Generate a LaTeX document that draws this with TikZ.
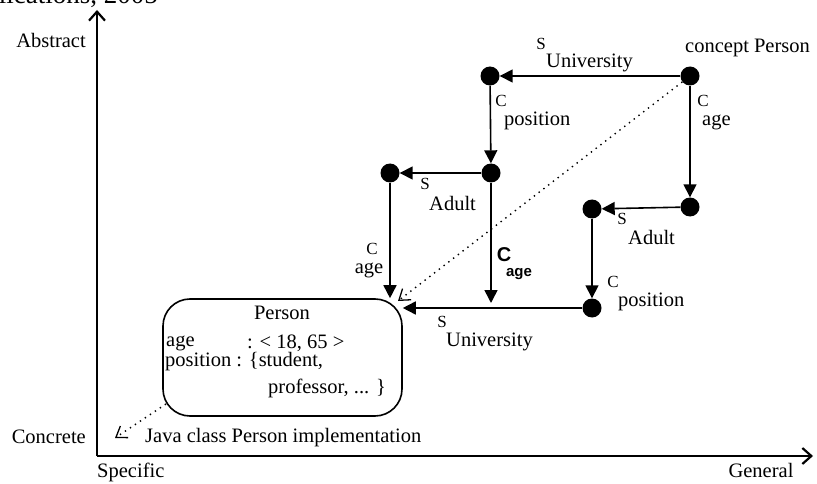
\documentclass[tikz,border=0pt]{standalone}
\usepackage{fontspec}
\setmainfont{Liberation Serif}
\newfontfamily\labelsans{Liberation Sans}
\usetikzlibrary{positioning}
\usetikzlibrary{arrows.meta}

\tikzset{
	dot/.style={circle, fill=black, inner sep=0pt, minimum size=19pt},
	link/.style={line width=1.6pt, -{Triangle[length=13pt,width=13pt]}},
	axis/.style={line width=2.2pt, -{Straight Barb[length=9pt,width=16pt]}},
	impl/.style={line width=1.4pt, dash pattern=on 1.4pt off 4.6pt, -{Straight Barb[length=10pt,width=14pt,line width=1.3pt]}},
	sym/.style={font=\fontsize{17}{17}\selectfont, inner sep=0pt},
	sub/.style={font=\fontsize{20.5}{22}\selectfont, inner sep=0pt, anchor=west},
	txt/.style={font=\fontsize{20.5}{22}\selectfont, inner sep=0pt},
	boldsym/.style={font=\labelsans\bfseries\fontsize{20}{20}\selectfont, inner sep=0pt},
	boldsub/.style={font=\labelsans\bfseries\fontsize{15}{15}\selectfont, inner sep=0pt},
}

\begin{document}
\begin{tikzpicture}[x=1pt, y=-1pt]

	\useasboundingbox (0,0) rectangle (817,484);

	% caption remainder at the top
	\node[txt, font=\fontsize{27}{28}\selectfont, anchor=base east] (caption) at (158,4) {Applications, 2005};

	% axes
	\coordinate (origin) at (97,456);
	\coordinate (ytip) at (97,10);
	\coordinate (xtip) at (813,456);
	\draw[axis] (origin) -- (ytip);
	\draw[axis] (origin) -- (xtip);

	\node[txt] (abstract) at (51,40) {Abstract};
	\node[txt, anchor=east] (concrete) at (86,437) {Concrete};
	\node[txt, anchor=west] (specific) at (97,472) {Specific};
	\node[txt] (general) at (761,470) {General};

	% concepts
	\node[dot] (P0) at (690,76) {};
	\node[dot] (A) at (490,76) {};
	\node[dot] (B) at (491,173) {};
	\node[dot] (Cn) at (390,173) {};
	\node[dot] (D) at (690,207) {};
	\node[dot] (E) at (592,209) {};
	\node[dot] (F) at (592,308) {};

	\node[txt, anchor=west] (concept) at (685,48) {concept Person};

	% class box
	\node[draw, line width=1.6pt, rounded corners=27pt, minimum width=239pt,
		minimum height=117pt, inner sep=0pt] (person) at (282.5,357.5) {};

	\node[txt] (pname) at (282,313) {Person};
	\node[txt, anchor=west] (page) at (166,343) {age};
	\node[txt, anchor=west] (prange) at (247,343) {: < 18, 65 >};
	\node[txt, anchor=west] (ppos) at (165,362) {position : \{student,};
	\node[txt, anchor=west] (pprof) at (268,388) {professor, ... \}};

	% specialisations and compositions
	\draw[link] (P0) -- (A);
	\node[sym] (s1) at (541,44) {S};
	\node[sub] (s1t) at (546,63) {University};

	\draw[link] (A) -- (B);
	\node[sym] (c1) at (501,101) {C};
	\node[sub] (c1t) at (504,121) {position};

	\draw[link] (P0) -- (D);
	\node[sym] (c2) at (703,101) {C};
	\node[sub] (c2t) at (702,122) {age};

	\draw[link] (B) -- (Cn);
	\node[sym] (s2) at (425,184) {S};
	\node[sub] (s2t) at (429,203) {Adult};

	\draw[link] (D) -- (E);
	\node[sym] (s3) at (622,219) {S};
	\node[sub] (s3t) at (628,237) {Adult};

	\draw[link] (E) -- (F);
	\node[sym] (c3) at (613,282) {C};
	\node[sub] (c3t) at (618,302) {position};

	\draw[link] (F) -- (F -| person.east);
	\node[sym] (s4) at (442,322) {S};
	\node[sub] (s4t) at (446,342) {University};

	\draw[link] (Cn) -- (Cn |- person.north);
	\node[sym] (c4) at (372,249) {C};
	\node[txt] (c4t) at (369,270) {age};

	\coordinate (Bend) at (491,303);
	\draw[link] (B) -- (Bend);
	\node[boldsym] (c5) at (504,255) {C};
	\node[boldsub] (c5t) at (519,274) {age};

	% implementation
	\coordinate (corner) at (398,301);
	\draw[impl] (P0) -- (corner);

	\coordinate (implfrom) at (166,404);
	\coordinate (impltip) at (115,438);
	\draw[impl] (implfrom) -- (impltip);
	\node[txt, anchor=west] (java) at (145,438) {Java class Person implementation};

\end{tikzpicture}
\end{document}
